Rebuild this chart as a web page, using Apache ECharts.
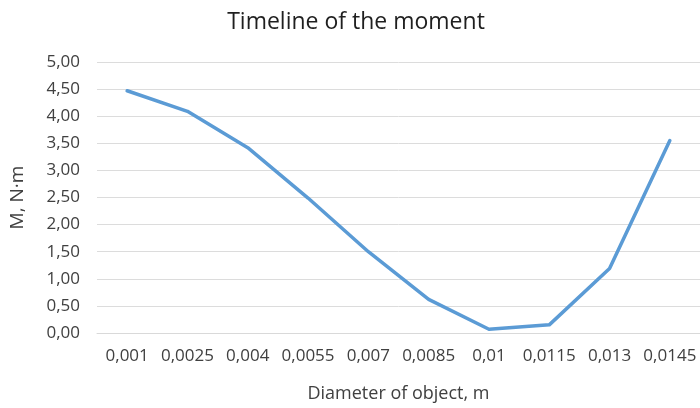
<!DOCTYPE html>
<html>
<head>
<meta charset="utf-8">
<script src="https://cdn.jsdelivr.net/npm/echarts@6/dist/echarts.min.js"></script>
<style>html,body{margin:0;padding:0;background:#fff}#c{width:700px;height:408px}</style>
</head>
<body>
<div id="c"></div>
<script>
const categories = ['0,001','0,0025','0,004','0,0055','0,007','0,0085','0,01','0,0115','0,013','0,0145'];
const moment = [4.47, 4.09, 3.42, 2.49, 1.50, 0.62, 0.07, 0.15, 1.19, 3.55];
const chart = echarts.init(document.getElementById('c'), null, {renderer: 'canvas'});
const FONT = '"Open Sans", sans-serif';
chart.setOption({
  animation: false,
  backgroundColor: '#ffffff',
  title: {
    text: 'Timeline of the moment',
    left: 351, top: 6, textAlign: 'center',
    textStyle: {fontFamily: FONT, fontSize: 23, fontWeight: 'normal', color: '#1f1f1f'}
  },
  grid: {left: 88, top: 62, width: 616, height: 280, containLabel: false},
  xAxis: {
    type: 'category',
    data: categories,
    boundaryGap: true,
    axisLine: {show: true, lineStyle: {color: '#d9d9d9', width: 1}},
    axisTick: {show: false},
    axisLabel: {fontFamily: FONT, fontSize: 17, color: '#404040', margin: 15, interval: 0},
    name: 'Diameter of object, m',
    nameLocation: 'middle',
    nameGap: 52,
    nameTextStyle: {fontFamily: FONT, fontSize: 18, color: '#404040'}
  },
  yAxis: {
    type: 'value',
    min: 0, max: 5, interval: 0.5,
    axisLine: {show: false},
    axisTick: {show: false},
    splitLine: {lineStyle: {color: '#dcdcdc', width: 1}},
    axisLabel: {
      fontFamily: FONT, fontSize: 17, color: '#404040', margin: 17,
      formatter: v => v.toFixed(2).replace('.', ',')
    },
    name: 'M, N·m',
    nameLocation: 'middle',
    nameGap: 70,
    nameTextStyle: {fontFamily: FONT, fontSize: 19, color: '#404040'}
  },
  series: [{
    type: 'line',
    data: moment,
    symbol: 'none',
    lineStyle: {color: '#5b9bd5', width: 3.5, join: 'round', cap: 'round'}
  }]
});
</script>
</body>
</html>
